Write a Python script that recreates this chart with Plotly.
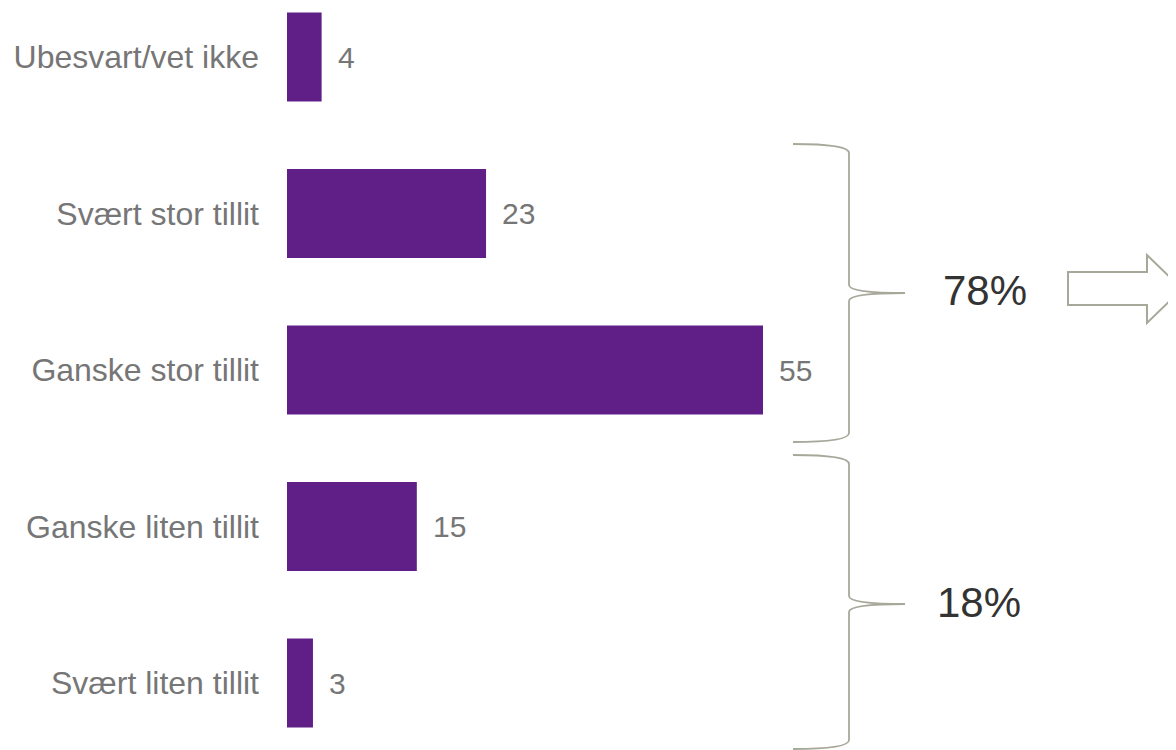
import plotly.graph_objects as go

categories = ["Ubesvart/vet ikke", "Svært stor tillit", "Ganske stor tillit",
              "Ganske liten tillit", "Svært liten tillit"]
values = [4, 23, 55, 15, 3]
group_labels = ["78%", "18%"]

OFF = 8  # page body margin
W, H = 1176 - OFF, 750 - OFF
positions = list(range(len(categories)))

BAR_COLOR = "#5f1f87"
LABEL_COLOR = "#767676"
BRACE_COLOR = "#a8a89a"
FONT = "Liberation Sans, Arial, sans-serif"

bar_left = 287 - OFF
scale = 476 / 55.0
x_max = (W - bar_left) / scale
step = 156.5
y0 = 57 - OFF

fig = go.Figure()
fig.add_trace(go.Bar(
    x=values, y=positions, orientation="h",
    marker=dict(color=BAR_COLOR, line=dict(width=0)),
    width=0.57, hoverinfo="skip",
))

for v, p in zip(values, positions):
    fig.add_annotation(x=v, y=p, xref="x", yref="y", text=str(v),
                       showarrow=False, xanchor="left", yanchor="middle",
                       xshift=14, font=dict(size=30, color=LABEL_COLOR, family=FONT))

def px(x):
    # reference page pixel -> paper coordinate of plot area
    return (x - OFF - bar_left) / (W - bar_left)

def py(y):
    return 1 - (y - OFF) / H

def P(x, y):
    return f"{px(x):.5f},{py(y):.5f}"

def brace_path(top, bottom, mid, xl=793, xv=849, xt=905):
    return (f"M {P(xl, top)} Q {P(xv, top)} {P(xv, top + 9)} "
            f"L {P(xv, mid - 8)} Q {P(xv, mid)} {P(xt, mid)} "
            f"Q {P(xv, mid)} {P(xv, mid + 8)} "
            f"L {P(xv, bottom - 9)} Q {P(xv, bottom)} {P(xl, bottom)}")

fig.add_shape(type="path", xref="paper", yref="paper",
              path=brace_path(144, 442, 293),
              line=dict(color=BRACE_COLOR, width=1.8))
fig.add_shape(type="path", xref="paper", yref="paper",
              path=brace_path(455, 749, 604),
              line=dict(color=BRACE_COLOR, width=1.8))

arrow_pts = [(1068, 272), (1147, 272), (1147, 255), (1182, 289),
             (1147, 323), (1147, 305), (1068, 305)]
d = "M " + " L ".join(P(x, y) for x, y in arrow_pts) + " Z"
fig.add_shape(type="path", xref="paper", yref="paper", path=d,
              line=dict(color=BRACE_COLOR, width=2), fillcolor="rgba(0,0,0,0)")

fig.add_annotation(x=px(985), y=py(291), xref="paper", yref="paper",
                   xanchor="center", yanchor="middle",
                   text=group_labels[0], showarrow=False,
                   font=dict(size=42, color="#333333", family=FONT))
fig.add_annotation(x=px(979), y=py(602), xref="paper", yref="paper",
                   xanchor="center", yanchor="middle",
                   text=group_labels[1], showarrow=False,
                   font=dict(size=42, color="#333333", family=FONT))

fig.update_layout(
    width=W, height=H,
    margin=dict(l=bar_left, r=0, t=0, b=0),
    paper_bgcolor="white", plot_bgcolor="white",
    showlegend=False,
    xaxis=dict(range=[0, x_max], visible=False, fixedrange=True),
    yaxis=dict(range=[(H - y0) / step, -y0 / step], tickvals=positions,
               ticktext=categories, showgrid=False, zeroline=False,
               showline=False, ticks="", ticklabelstandoff=27,
               tickfont=dict(size=32, color=LABEL_COLOR, family=FONT),
               fixedrange=True),
    font=dict(family=FONT),
)

fig.write_html("out.html", config={"displayModeBar": False})
